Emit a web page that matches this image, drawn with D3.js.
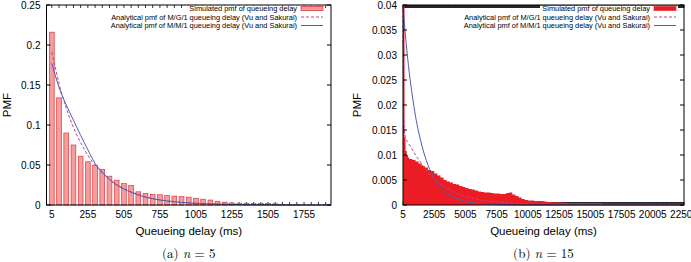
<!DOCTYPE html>
<html>
<head>
<meta charset="utf-8">
<script src="https://cdn.jsdelivr.net/npm/d3@7/dist/d3.min.js"></script>
<style>
  body { margin: 0; background: #fff; }
  svg { display: block; }
  text { font-family: "Liberation Sans", Arial, Helvetica, sans-serif; }
</style>
</head>
<body>
<svg id="chart" width="691" height="262"></svg>
<script>
// ---- (a) n = 5 : simulated pmf, 50 ms bins
const binsA = [5, 55, 105, 155, 205, 255, 305, 355, 405, 455, 505, 555, 605, 655, 705, 755, 805, 855, 905, 955,
  1005, 1055, 1105, 1155, 1205, 1255, 1305, 1355, 1405, 1455, 1505, 1555, 1605, 1655, 1705, 1755, 1805, 1855, 1905];
const simA = [0.216, 0.134, 0.090, 0.075, 0.061, 0.054, 0.0496, 0.0446, 0.036, 0.031, 0.0267, 0.0246, 0.0165, 0.0145, 0.0132, 0.0128, 0.012, 0.0112, 0.0105, 0.0098,
  0.0084, 0.0072, 0.0062, 0.0045, 0.0035, 0.0025, 0.0022, 0.002, 0.0019, 0.002, 0.0018, 0.0015, 0.0003, 0.0002, 0.0001, 0, 0, 0, 0];
// analytical curves (n = 5)
const curveXA = [5, 55, 105, 155, 205, 255, 305, 355, 405, 455, 505, 555, 605, 655, 705, 755, 805, 855, 905, 955, 1005, 1105, 1205, 1305, 1405, 1505, 1705, 1940];
const mg1A = [0.191, 0.152, 0.121, 0.097, 0.078, 0.062, 0.050, 0.040, 0.032, 0.0255, 0.0204, 0.0163, 0.013, 0.0104, 0.0083, 0.0066, 0.0053, 0.0042, 0.0034, 0.0027, 0.0022, 0.0014, 0.0009, 0.0006, 0.0004, 0.0003, 0.0001, 0];
const mm1A = [0.177, 0.147, 0.125, 0.106, 0.087, 0.069, 0.052, 0.041, 0.032, 0.025, 0.020, 0.016, 0.0125, 0.0098, 0.0078, 0.0062, 0.005, 0.004, 0.0032, 0.0026, 0.0021, 0.0014, 0.0009, 0.0006, 0.0004, 0.0003, 0.0001, 0];
const xTicksA = [5, 255, 505, 755, 1005, 1255, 1505, 1755];
const yTicksA = [0, 0.05, 0.1, 0.15, 0.2, 0.25];

// ---- (b) n = 15 : simulated pmf (bin start, value)
const binsB = [5, 125, 205, 305, 405, 505, 755, 1005, 1255, 1505, 1755, 2005, 2255, 2505, 2755, 3005, 3255, 3505, 3755, 4005,
  4255, 4505, 4755, 5005, 5255, 5505, 5755, 6005, 6255, 6505, 6755, 7005, 7255, 7505, 7755, 8005, 8255, 8505, 8755, 9005,
  9255, 9505, 9755, 10005, 10255, 10505, 10755, 11005, 11255, 11505, 11755, 12005, 12505, 13005, 13505, 14005, 15005, 16005,
  17005, 18005, 19005, 20005, 21005, 22005];
const simB = [0.0400, 0.0135, 0.0108, 0.0100, 0.0095, 0.0092, 0.0090, 0.0087, 0.0083, 0.0078, 0.0075, 0.0070, 0.0068, 0.0063, 0.0059, 0.0055, 0.0050, 0.0047, 0.0045, 0.0042,
  0.0041, 0.0038, 0.0036, 0.0034, 0.0032, 0.0031, 0.0029, 0.0027, 0.0026, 0.0025, 0.0025, 0.0024, 0.0023, 0.0023, 0.0022, 0.0022, 0.0024, 0.0025, 0.0021, 0.0018,
  0.0015, 0.0012, 0.0010, 0.0009, 0.0009, 0.0008, 0.0008, 0.0008, 0.0007, 0.0006, 0.0006, 0.0005, 0.0005, 0.0004, 0.0004, 0.0004, 0.0004, 0.0003,
  0.0003, 0.0003, 0.0003, 0.0003, 0.0003, 0.0003];
const mg1XB = [5, 30, 60, 105, 205, 405, 705, 1005, 1405, 1905, 2505, 3005, 4005, 5005, 6005, 8005, 10005, 14005, 22505];
const mg1B = [0.040, 0.026, 0.019, 0.0155, 0.0135, 0.0125, 0.0113, 0.0100, 0.0086, 0.0068, 0.0052, 0.0042, 0.0027, 0.0017, 0.0011, 0.0005, 0.0002, 0.0001, 0];
const mm1XB = [5, 255, 505, 755, 1005, 1255, 1505, 1755, 2005, 2505, 3005, 3505, 4005, 4505, 5005, 6005, 7005, 8005, 10005, 22505];
const mm1B = [0.0395, 0.0325, 0.0265, 0.0218, 0.0178, 0.0146, 0.0120, 0.0098, 0.0080, 0.0054, 0.0036, 0.0024, 0.0016, 0.0011, 0.0007, 0.0003, 0.0001, 0.00005, 0, 0];
const xTicksB = [5, 2505, 5005, 7505, 10005, 12505, 15005, 17505, 20005, 22505];
const yTicksB = [0, 0.005, 0.01, 0.015, 0.02, 0.025, 0.03, 0.035, 0.04];

const legendLabels = [
  "Simulated pmf of queueing delay",
  "Analytical pmf of M/G/1 queueing delay (Vu and Sakurai)",
  "Analytical pmf of M/M/1 queueing delay (Vu and Sakurai)"
];

const barFill = "#f59c9c", barStroke = "#e0393f", histFill = "#ec1c24";
const mgColor = "#c8408c", mmColor = "#4c5db4";

const svg = d3.select("#chart");

function panel(opt) {
  const g = svg.append("g");
  const x = d3.scaleLinear().domain(opt.xDomain).range([opt.left, opt.right]);
  const y = d3.scaleLinear().domain(opt.yDomain).range([opt.bottom, opt.top]);

  // minor x ticks, top and bottom, pointing inwards
  const minor = d3.range(opt.xDomain[0] < 5 ? 5 : opt.xDomain[0], opt.xDomain[1] + 1, opt.minorStep);
  g.append("g").selectAll("line").data(minor).join("line")
    .attr("x1", d => x(d)).attr("x2", d => x(d))
    .attr("y1", opt.bottom).attr("y2", opt.bottom - 3)
    .attr("stroke", "#000").attr("stroke-width", 0.8);
  g.append("g").selectAll("line").data(minor).join("line")
    .attr("x1", d => x(d)).attr("x2", d => x(d))
    .attr("y1", opt.top).attr("y2", opt.top + 3)
    .attr("stroke", "#000").attr("stroke-width", 0.8);

  opt.drawSim(g, x, y);

  const line = d3.line().x(d => x(d[0])).y(d => y(d[1])).curve(d3.curveMonotoneX);
  g.append("path").datum(d3.zip(opt.mgX, opt.mg))
    .attr("d", line).attr("fill", "none").attr("stroke", mgColor)
    .attr("stroke-width", 1).attr("stroke-dasharray", "3,2");
  g.append("path").datum(d3.zip(opt.mmX, opt.mm))
    .attr("d", line).attr("fill", "none").attr("stroke", mmColor)
    .attr("stroke-width", 1);

  // y ticks left and right
  g.append("g").selectAll("line").data(opt.yTicks).join("line")
    .attr("x1", opt.left).attr("x2", opt.left + 4)
    .attr("y1", d => y(d)).attr("y2", d => y(d)).attr("stroke", "#000");
  g.append("g").selectAll("line").data(opt.yTicks).join("line")
    .attr("x1", opt.right).attr("x2", opt.right - 4)
    .attr("y1", d => y(d)).attr("y2", d => y(d)).attr("stroke", "#000");

  // legend (first row just under the top border, on a white patch)
  const lx = opt.legendX;
  const rows = [8.5, 17, 25.5];
  g.append("rect").attr("x", lx - 110).attr("y", 5.5).attr("width", 138).attr("height", 6.5).attr("fill", "#fff");
  legendLabels.forEach((t, i) => {
    g.append("text").attr("x", lx).attr("y", rows[i]).attr("dy", "0.35em")
      .attr("text-anchor", "end").attr("font-size", 7.4).text(t);
  });
  g.append("rect").attr("x", lx + 4).attr("y", rows[0] - 2).attr("width", 22).attr("height", 4)
    .attr("fill", opt.legendFill).attr("stroke", barStroke).attr("stroke-width", 0.8);
  g.append("line").attr("x1", lx + 4).attr("x2", lx + 26).attr("y1", rows[1]).attr("y2", rows[1])
    .attr("stroke", mgColor).attr("stroke-dasharray", "3,2");
  g.append("line").attr("x1", lx + 4).attr("x2", lx + 26).attr("y1", rows[2]).attr("y2", rows[2])
    .attr("stroke", mmColor);

  g.append("rect")
    .attr("x", opt.left).attr("y", opt.top)
    .attr("width", opt.right - opt.left).attr("height", opt.bottom - opt.top)
    .attr("fill", "none").attr("stroke", "#000").attr("stroke-width", 1);

  g.append("g").selectAll("text").data(opt.yTicks).join("text")
    .attr("x", opt.left - 6).attr("y", d => y(d)).attr("dy", "0.35em")
    .attr("text-anchor", "end").attr("font-size", 10)
    .text(d => String(+d.toFixed(3)));
  g.append("g").selectAll("text").data(opt.xTicks).join("text")
    .attr("x", d => x(d)).attr("y", opt.bottom + 13)
    .attr("text-anchor", "middle").attr("font-size", 10)
    .text(d => d);

  g.append("text")
    .attr("transform", `translate(${opt.pmfX},105) rotate(-90)`)
    .attr("text-anchor", "middle").attr("font-size", 11.5).text("PMF");
  const cx = (opt.left + opt.right) / 2;
  g.append("text").attr("x", cx).attr("y", 235)
    .attr("text-anchor", "middle").attr("font-size", 11.5).text("Queueing delay (ms)");
  const cap = g.append("text").attr("x", cx).attr("y", 258)
    .attr("text-anchor", "middle").attr("font-size", 13)
    .style("font-family", "'Latin Modern Roman','DejaVu Serif','Liberation Serif',serif");
  cap.append("tspan").text(opt.capPrefix + " ");
  cap.append("tspan").attr("font-style", "italic").text("n");
  cap.append("tspan").text(" = " + opt.n);
}

panel({
  left: 46.5, right: 331, top: 5, bottom: 205,
  xDomain: [-32, 1942], yDomain: [0, 0.25], minorStep: 50,
  xTicks: xTicksA, yTicks: yTicksA,
  mgX: curveXA, mg: mg1A, mmX: curveXA, mm: mm1A,
  pmfX: 11, legendX: 297, legendFill: barFill, capPrefix: "(a)", n: 5,
  drawSim: (g, x, y) => {
    const w = (x(50) - x(0)) * 0.66;
    g.append("g").selectAll("rect").data(d3.zip(binsA, simA).filter(d => d[1] > 0)).join("rect")
      .attr("x", d => x(d[0]) - w / 2).attr("width", w)
      .attr("y", d => y(d[1])).attr("height", d => y(0) - y(d[1]))
      .attr("fill", barFill).attr("stroke", barStroke).attr("stroke-width", 0.7);
  }
});

panel({
  left: 403, right: 684, top: 5, bottom: 205,
  xDomain: [5, 22505], yDomain: [0, 0.04], minorStep: 50,
  xTicks: xTicksB, yTicks: yTicksB,
  mgX: mg1XB, mg: mg1B, mmX: mm1XB, mm: mm1B,
  pmfX: 361, legendX: 650, legendFill: histFill, capPrefix: "(b)", n: 15,
  drawSim: (g, x, y) => {
    const area = d3.area().x(d => x(d[0])).y0(y(0)).y1(d => y(d[1])).curve(d3.curveStepAfter);
    const pts = d3.zip(binsB, simB);
    pts.push([22505, simB[simB.length - 1]]);
    g.append("path").datum(pts).attr("d", area).attr("fill", histFill);
  }
});
</script>
</body>
</html>
